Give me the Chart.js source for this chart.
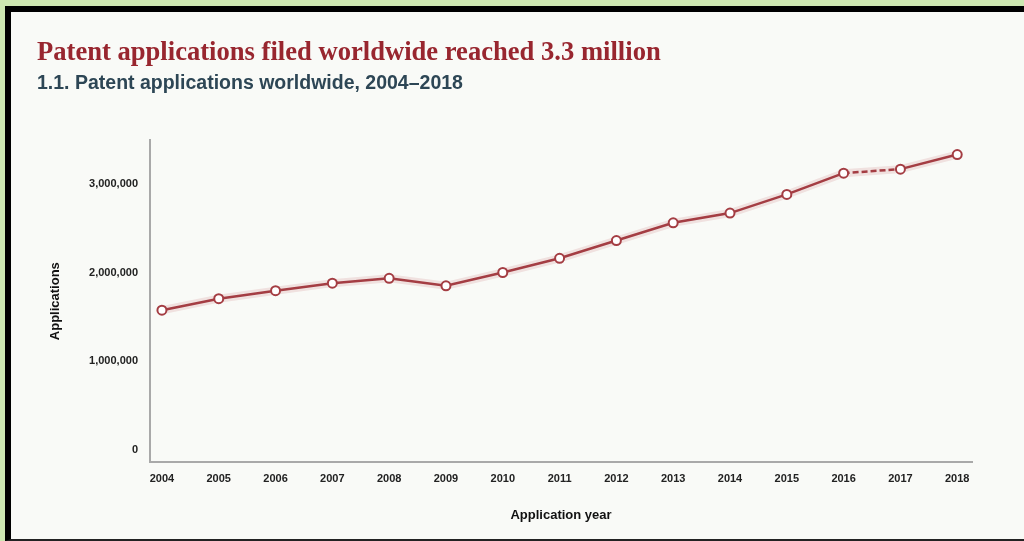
<!DOCTYPE html>
<html>
<head>
<meta charset="utf-8">
<script src="https://cdn.jsdelivr.net/npm/chart.js@4"></script>
<style>
    html, body { margin: 0; padding: 0; }
    body { width: 1024px; height: 541px; background: #cde7b1; position: relative; overflow: hidden; }
    #frame {
        position: absolute; left: 5px; top: 6px; width: 1013px; height: 527px;
        border-left: 6px solid #000; border-top: 6px solid #000; border-bottom: 2px solid #222;
        background: #f9faf7;
    }
    #chartBox { width: 1013px; height: 527px; }
</style>
</head>
<body>
<div id="frame"><div id="chartBox"><canvas id="patentChart"></canvas></div></div>
<script>
const years = [2004, 2005, 2006, 2007, 2008, 2009, 2010, 2011, 2012, 2013, 2014, 2015, 2016, 2017, 2018];
const applications = [1575000, 1705000, 1795000, 1880000, 1935000, 1850000, 2000000, 2160000, 2360000, 2560000, 2670000, 2880000, 3120000, 3165000, 3330000];
const yTicks = [0, 1000000, 2000000, 3000000];

const lineColor = '#a43d43';
const labelFont = "'Liberation Sans', Arial, sans-serif";

function toPoints(xs, ys) {
    return xs.map((x, i) => ({ x: x, y: ys[i] }));
}

const ctx = document.getElementById('patentChart').getContext('2d');
const patentChart = new Chart(ctx, {
    type: 'line',
    data: {
        datasets: [
            {
                label: 'Applications',
                data: toPoints(years, applications),
                borderColor: lineColor,
                borderWidth: 2.5,
                pointRadius: 4.5,
                pointBorderWidth: 2,
                pointBackgroundColor: '#ffffff',
                pointBorderColor: lineColor,
                segment: {
                    // 2016-2017 drawn dashed (break in series)
                    borderDash: c => c.p0DataIndex === 12 ? [6, 3] : undefined
                }
            },
            {
                label: 'halo',
                data: toPoints(years, applications),
                borderColor: 'rgba(200, 110, 115, 0.18)',
                borderWidth: 8,
                pointRadius: 0
            }
        ]
    },
    options: {
        responsive: true,
        maintainAspectRatio: false,
        animation: false,
        layout: { padding: { left: 26, right: 52, top: 10, bottom: 0 } },
        plugins: {
            legend: { display: false },
            tooltip: { enabled: false },
            title: {
                display: true,
                text: 'Patent applications filed worldwide reached 3.3 million',
                align: 'start',
                color: '#98262f',
                font: { family: "'Liberation Serif', 'Times New Roman', serif", size: 26.6, weight: 'bold' },
                padding: { top: 15, bottom: 3 }
            },
            subtitle: {
                display: true,
                text: '1.1. Patent applications worldwide, 2004–2018',
                align: 'start',
                color: '#2d4655',
                font: { family: labelFont, size: 19.5, weight: 'bold' },
                padding: { top: 0, bottom: 45 }
            }
        },
        scales: {
            x: {
                type: 'linear',
                min: 2003.79,
                max: 2018.26,
                afterBuildTicks: s => { s.ticks = years.map(v => ({ value: v })); },
                afterFit: s => { s.height = 77; },
                grid: { display: false, drawTicks: false },
                border: { display: true, color: '#a9a9a9', width: 2 },
                ticks: {
                    padding: 10,
                    color: '#222',
                    font: { family: labelFont, size: 11, weight: 'bold' },
                    callback: v => String(v),
                    maxRotation: 0,
                    autoSkip: false
                },
                title: {
                    display: true,
                    text: 'Application year',
                    color: '#111',
                    font: { family: labelFont, size: 13, weight: 'bold' },
                    padding: { top: 10, bottom: 16 }
                }
            },
            y: {
                min: -136000,
                max: 3490000,
                afterBuildTicks: s => { s.ticks = yTicks.map(v => ({ value: v })); },
                afterFit: s => { s.width = 113; },
                grid: { display: false, drawTicks: false },
                border: { display: true, color: '#a9a9a9', width: 2 },
                ticks: {
                    padding: 12,
                    color: '#222',
                    font: { family: labelFont, size: 11, weight: 'bold' },
                    callback: v => v.toLocaleString('en-US')
                },
                title: {
                    display: true,
                    text: 'Applications',
                    color: '#111',
                    font: { family: labelFont, size: 13, weight: 'bold' },
                    padding: { top: 11, bottom: 0 }
                }
            }
        }
    }
});
</script>
</body>
</html>
